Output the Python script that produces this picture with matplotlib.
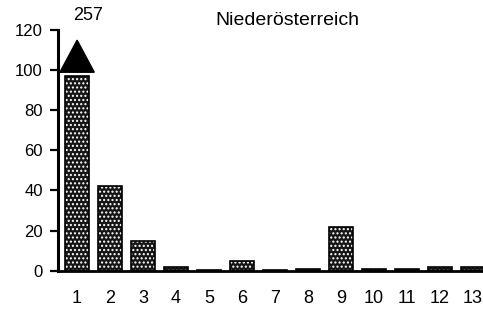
import matplotlib
matplotlib.use("Agg")
import matplotlib.pyplot as plt
from matplotlib.patches import Polygon

plt.rcParams['font.family'] = ['Liberation Sans', 'DejaVu Sans']

categories = [1, 2, 3, 4, 5, 6, 7, 8, 9, 10, 11, 12, 13]
values = [257, 42, 15, 2, 0.5, 5, 0.5, 1, 22, 1, 1, 2, 2]
y_ticks = [0, 20, 40, 60, 80, 100, 120]
title = "Niederösterreich"
cap = 97  # where the truncated bar is cut off

fig = plt.figure(figsize=(4.83, 3.14), dpi=100)
ax = fig.add_axes([0.12, 0.138, 0.88, 0.766])

shown = [min(v, cap) for v in values]
ax.bar(categories, shown, width=0.73, color='#151515', edgecolor='white',
       hatch='....', linewidth=0, zorder=2)
ax.bar(categories, shown, width=0.73, fill=False, edgecolor='black',
       linewidth=1.2, zorder=3)

# arrow on truncated bar
for c, v in zip(categories, values):
    if v > 120:
        tri = Polygon([[c - 0.52, cap + 2], [c + 0.52, cap + 2], [c, 115]],
                      closed=True, color='black', zorder=4)
        ax.add_patch(tri)
        ax.text(c + 0.33, 125, str(v), ha='center', va='baseline', fontsize=13)

ax.set_xlim(0.42, 13.3)
ax.set_ylim(0, 120)
ax.set_yticks(y_ticks)
ax.set_xticks(categories)
ax.spines['top'].set_visible(False)
ax.spines['right'].set_visible(False)
ax.spines['left'].set_linewidth(2.2)
ax.spines['bottom'].set_linewidth(2)
ax.tick_params(axis='y', direction='out', length=6, width=1.6, labelsize=12, pad=5)
ax.tick_params(axis='x', length=0, labelsize=13, pad=14)
ax.spines['left'].set_zorder(5)

fig.text(0.594, 0.936, title, ha='center', va='center', fontsize=14)

fig.savefig("out.png", dpi=100)
